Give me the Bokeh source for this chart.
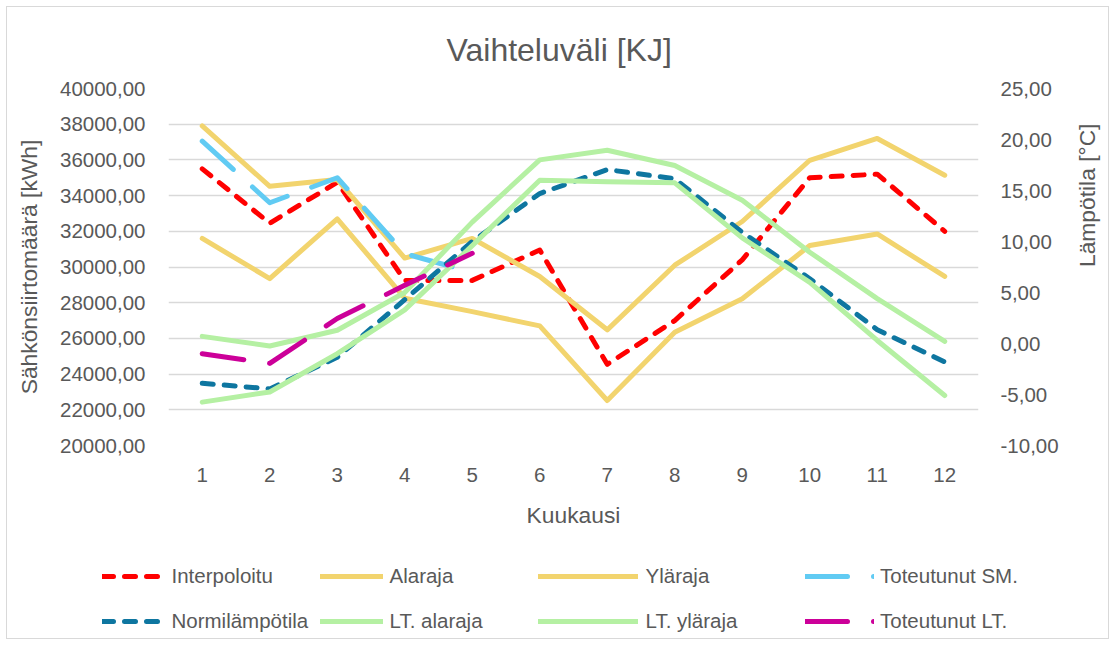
import math
from bokeh.plotting import figure
from bokeh.layouts import column
from bokeh.models import (Range1d, LinearAxis, FixedTicker, CustomJSTickFormatter,
                          Legend, LegendItem, ColumnDataSource)
from bokeh.core.properties import value
from bokeh.embed import file_html
from bokeh.resources import INLINE

# ---------------- data ----------------
months = [1, 2, 3, 4, 5, 6, 7, 8, 9, 10, 11, 12]
# left axis (kWh)
interpoloitu = [35500, 32450, 34750, 29250, 29250, 30950, 24550, 27000, 30400, 35000, 35200, 32000]
alaraja = [31600, 29350, 32700, 28250, 27500, 26700, 22520, 26350, 28220, 31200, 31850, 29470]
ylaraja = [37900, 34520, 34900, 30500, 31600, 29470, 26480, 30100, 32550, 35980, 37200, 35140]
toteutunut_sm = [37050, 33600, 35000, 30750, 29700]
# right axis (°C)
normilampotila = [-3.9, -4.45, -1.35, 4.3, 10.0, 14.7, 17.05, 16.15, 10.9, 6.35, 1.35, -1.8]
lt_alaraja = [-5.75, -4.75, -1.0, 3.3, 9.6, 16.0, 15.85, 15.75, 10.35, 6.0, 0.3, -5.1]
lt_ylaraja = [0.7, -0.25, 1.3, 5.0, 11.9, 18.0, 18.95, 17.45, 14.05, 8.95, 4.4, 0.2]
toteutunut_lt = [-1.0, -1.95, 2.45, 5.7, 8.85]

left_ticks = list(range(20000, 40001, 2000))
right_ticks = [-10, -5, 0, 5, 10, 15, 20, 25]

FONT = "Liberation Sans"
TXT = "#595959"
RED = "#FF0000"
YELLOW = "#F2D46E"
LBLUE = "#61CBF3"
DBLUE = "#0E76A0"
GREEN = "#B5F0A3"
MAGENTA = "#CC0099"

p = figure(frame_width=810, frame_height=357,
           x_range=Range1d(0.5, 12.5), y_range=Range1d(20000, 40000),
           output_backend="svg", toolbar_location=None,
           min_border_left=168, min_border_right=122, min_border_top=88, min_border_bottom=110,
           background_fill_alpha=0, border_fill_alpha=0, outline_line_color=None)
p.extra_y_ranges = {"temp": Range1d(-10, 25)}

fmt = CustomJSTickFormatter(code="return tick.toFixed(2).replace('.', ',');")

def style_axis(ax):
    ax.axis_line_color = None
    ax.major_tick_line_color = None
    ax.minor_tick_line_color = None
    ax.major_tick_out = 0
    ax.major_tick_in = 0
    ax.minor_tick_out = 0
    ax.major_label_text_font = FONT
    ax.major_label_text_font_size = "20.5px"
    ax.major_label_text_color = TXT
    ax.axis_label_text_font = FONT
    ax.axis_label_text_font_size = "22.8px"
    ax.axis_label_text_color = TXT
    ax.axis_label_text_font_style = "normal"

yax = p.yaxis[0]
yax.ticker = FixedTicker(ticks=left_ticks)
yax.formatter = fmt
yax.axis_label = "Sähkönsiirtomäärä [kWh]"
style_axis(yax)
yax.major_label_standoff = 23
yax.axis_label_standoff = 15

xax = p.xaxis[0]
xax.ticker = FixedTicker(ticks=months)
xax.axis_label = "Kuukausi"
style_axis(xax)
xax.major_label_standoff = 22
xax.axis_label_standoff = 17

rax = LinearAxis(y_range_name="temp", ticker=FixedTicker(ticks=right_ticks), formatter=fmt,
                 axis_label="Lämpötila [°C]")
style_axis(rax)
rax.major_label_standoff = 22
rax.axis_label_standoff = 25
rax.axis_label_orientation = math.pi / 2
p.add_layout(rax, "right")

p.xgrid.visible = False
p.ygrid.grid_line_color = "#D9D9D9"
p.ygrid.grid_line_width = 1.3

p.title.text = "Vaihteluväli [KJ]"
p.title.text_font = FONT
p.title.text_font_size = "32px"
p.title.text_font_style = "normal"
p.title.text_color = TXT
p.title.align = "left"
p.title.offset = 278
p.title.standoff = 41

src = ColumnDataSource(dict(month=months, interp=interpoloitu, ala=alaraja, yla=ylaraja,
                            normi=normilampotila, ltala=lt_alaraja, ltyla=lt_ylaraja))
src5 = ColumnDataSource(dict(month=months[:5], sm=toteutunut_sm, lt=toteutunut_lt))

W = 5
common = dict(line_width=W, line_join="round", line_cap="round")
styles = {
    "interp": dict(line_color=RED, line_dash="11 11"),
    "ala": dict(line_color=YELLOW),
    "yla": dict(line_color=YELLOW),
    "sm": dict(line_color=LBLUE, line_dash="42 26"),
    "normi": dict(line_color=DBLUE, line_dash="11 11"),
    "ltala": dict(line_color=GREEN),
    "ltyla": dict(line_color=GREEN),
    "lt": dict(line_color=MAGENTA, line_dash="42 26"),
}
p.line("month", "interp", source=src, **styles["interp"], **common)
p.line("month", "ala", source=src, **styles["ala"], **common)
p.line("month", "yla", source=src, **styles["yla"], **common)
p.line("month", "sm", source=src5, **styles["sm"], **common)
p.line("month", "normi", source=src, y_range_name="temp", **styles["normi"], **common)
p.line("month", "ltala", source=src, y_range_name="temp", **styles["ltala"], **common)
p.line("month", "ltyla", source=src, y_range_name="temp", **styles["ltyla"], **common)
p.line("month", "lt", source=src5, y_range_name="temp", **styles["lt"], **common)

# ---------------- legend (separate strip below the chart) ----------------
lf = figure(frame_width=1100, frame_height=90, x_axis_type=None, y_axis_type=None,
            x_range=Range1d(0, 1), y_range=Range1d(0, 1),
            output_backend="svg", toolbar_location=None,
            min_border_left=0, min_border_right=0, min_border_top=0, min_border_bottom=0,
            background_fill_alpha=0, border_fill_alpha=0, outline_line_color=None)
lf.xgrid.visible = False
lf.ygrid.visible = False

NAN = float("nan")
def legend_line(key):
    # placeholder renderer (no visible data) that only carries the legend style
    return lf.line(x=[NAN, NAN], y=[NAN, NAN], **styles[key], **common)

LEG_Y = 9.3
def add_legend(pairs, x, gw, standoff):
    lg = Legend(items=[LegendItem(label=value(t), renderers=[legend_line(k)]) for t, k in pairs],
                location=(x, LEG_Y), orientation="vertical",
                glyph_width=gw, glyph_height=30, label_height=30,
                label_standoff=standoff, spacing=15, padding=0, margin=0,
                border_line_color=None, background_fill_alpha=0,
                label_text_font=FONT, label_text_font_size="20.5px", label_text_color=TXT)
    lf.add_layout(lg, "center")

add_legend([("Interpoloitu", "interp"), ("Normilämpötila", "normi")], 101.5, 58, 12)
add_legend([("Alaraja", "ala"), ("LT. alaraja", "ltala")], 319.5, 63, 7)
add_legend([("Yläraja", "yla"), ("LT. yläraja", "ltyla")], 537.5, 100, 8)
add_legend([("Toteutunut SM.", "sm"), ("Toteutunut LT.", "lt")], 805, 69, 6)

layout = column(p, lf, spacing=0)
layout.styles = {"outline": "1px solid #D9D9D9", "outline-offset": "-7px",
                 "background-color": "white"}

open("out.html", "w").write(file_html(layout, INLINE))
